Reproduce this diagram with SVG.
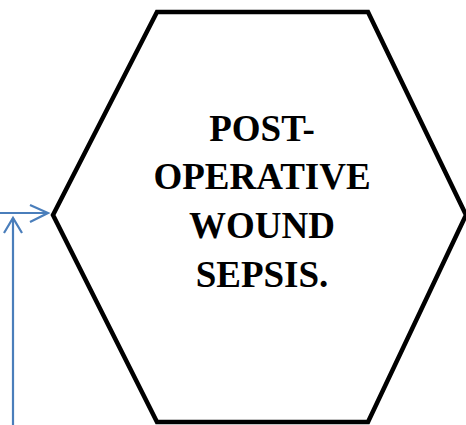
<svg xmlns="http://www.w3.org/2000/svg" width="466" height="425" viewBox="0 0 466 425">
<style>
.hex{fill:#ffffff;stroke:#000000;stroke-width:4.5;stroke-linejoin:miter}
.lbl{font-family:"Liberation Serif","Times New Roman",serif;font-weight:bold;font-size:37px;fill:#000000;text-anchor:middle}
.conn{fill:none;stroke:#4A7EBB;stroke-width:2.2}
</style>
<rect width="466" height="425" fill="#ffffff"/>
<g id="node-sepsis">
<polygon class="hex" points="157,12 368,12 466,215 368,422 157,422 53,215"/>
<text class="lbl" x="262" y="141">POST-</text>
<text class="lbl" x="262" y="189">OPERATIVE</text>
<text class="lbl" x="262" y="238">WOUND</text>
<text class="lbl" x="262" y="287">SEPSIS.</text>
</g>
<g id="connectors">
<path class="conn" d="M0,213 H48"/>
<path class="conn" d="M30,205 L48,213 L30,222"/>
<path class="conn" d="M13,425 V218"/>
<path class="conn" d="M4,233 L13,218 L22,233"/>
</g>
</svg>
